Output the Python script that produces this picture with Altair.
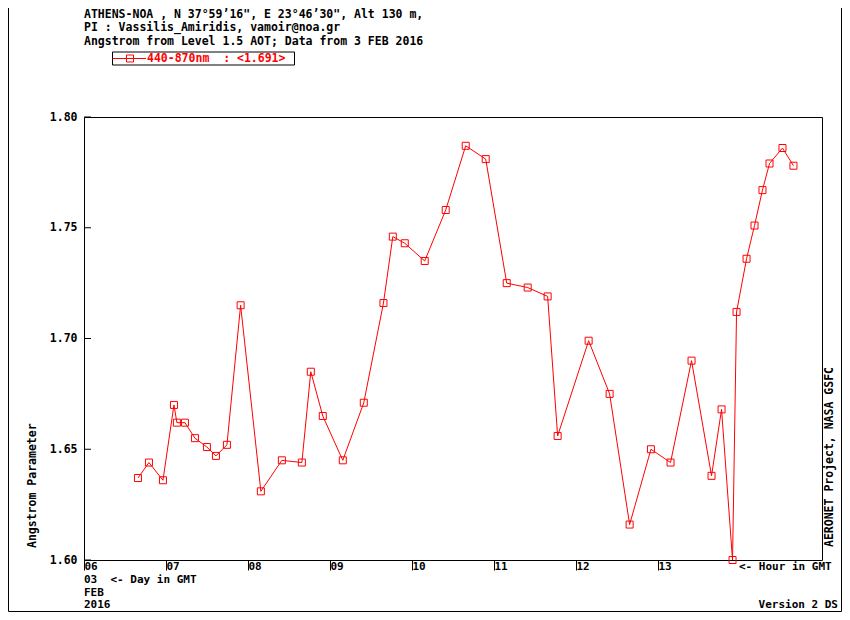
"""AERONET Athens-NOA Angstrom exponent, 3 Feb 2016."""

import altair as alt
import pandas as pd

FONT = "DejaVu Sans Mono"
RED = "#ff0000"
NB = "\u00a0"  # keeps double spaces in svg text

# hour of day (GMT) and Angstrom parameter 440-870nm
hours = [6.658, 6.792, 6.963, 7.097, 7.133, 7.231, 7.353, 7.499, 7.609, 7.743,
         7.910, 8.157, 8.413, 8.657, 8.766, 8.912, 9.156, 9.412, 9.652, 9.766,
         9.912, 10.155, 10.411, 10.655, 10.899, 11.155, 11.411, 11.654, 11.776, 12.154,
         12.410, 12.654, 12.914, 13.153, 13.409, 13.653, 13.775, 13.909, 13.958, 14.080,
         14.177, 14.274, 14.360, 14.518, 14.652]
angstrom = [1.637, 1.644, 1.636, 1.670, 1.662, 1.662, 1.655, 1.651, 1.647, 1.652,
            1.715, 1.631, 1.645, 1.644, 1.685, 1.665, 1.645, 1.671, 1.716, 1.746,
            1.743, 1.735, 1.758, 1.787, 1.781, 1.725, 1.723, 1.719, 1.656, 1.699,
            1.675, 1.616, 1.650, 1.644, 1.690, 1.638, 1.668, 1.600, 1.712, 1.736,
            1.751, 1.767, 1.779, 1.786, 1.778]

hour_ticks = [6, 7, 8, 9, 10, 11, 12, 13]
y_ticks = [1.60, 1.65, 1.70, 1.75, 1.80]

header = [
    "ATHENS-NOA , N 37\u00b059\u201916\", E 23\u00b046\u201930\", Alt 130 m,",
    "PI : Vassilis_Amiridis, vamoir@noa.gr",
    "Angstrom from Level 1.5 AOT; Data from 3 FEB 2016",
]
legend_label = "440-870nm " + NB + ": <1.691>"
date_lines = ["03 " + NB + "<- Day in GMT", "FEB", "2016"]

df = pd.DataFrame({"hour": hours, "angstrom": angstrom})
one = pd.DataFrame({"t": [""]})

x_scale = alt.Scale(domain=[6, 15], nice=False, zero=False)
y_scale = alt.Scale(domain=[1.60, 1.80], nice=False, zero=False)

x_axis = alt.Axis(
    values=hour_ticks,
    labelExpr="datum.value < 10 ? '0' + datum.value : '' + datum.value",
    tickSize=10,
    labelAlign="left",
    labelBaseline="middle",
    labelPadding=-3.5,
    labelFontSize=11,
    labelFlush=False,
    labelOverlap=False,
    grid=False,
    domain=False,
    title=None,
)
y_axis = alt.Axis(
    values=y_ticks,
    format=".2f",
    ticks=False,
    domain=False,
    grid=False,
    labelPadding=7,
    labelBaseline="middle",
    title=None,
)

x_enc = alt.X("hour:Q", scale=x_scale, axis=x_axis)
y_enc = alt.Y("angstrom:Q", scale=y_scale, axis=y_axis)

line = alt.Chart(df).mark_line(color=RED, strokeWidth=1).encode(x_enc, y_enc)
points = (
    alt.Chart(df)
    .mark_point(shape="square", size=49, filled=False, color=RED, strokeWidth=1, opacity=1)
    .encode(x_enc, y_enc)
)

# inward ticks on the left axis
yticks = (
    alt.Chart(pd.DataFrame({"angstrom": y_ticks}))
    .mark_rule(color="black", strokeWidth=1)
    .encode(y=alt.Y("angstrom:Q", scale=y_scale, axis=y_axis), x=alt.value(0), x2=alt.value(7))
)


def note(text, x, y, size=11.5, color="black", **kw):
    return (
        alt.Chart(pd.DataFrame({"t": [text]}))
        .mark_text(font=FONT, fontWeight="bold", fontSize=size, color=color,
                   baseline="middle", **kw)
        .encode(x=alt.value(x), y=alt.value(y), text="t:N")
    )


notes = [
    note(header[0], 0, -102, align="left"),
    note(header[1], 0, -88.6, align="left"),
    note(header[2], 0, -75.2, align="left"),
    note(legend_label, 63, -58.5, color=RED, align="left"),
    note("Angstrom Parameter", -51, 431, angle=270, align="left"),
    note("AERONET Project, NASA GSFC", 746, 430, angle=270, align="left"),
    note("<- Hour in GMT", 655, 449.5, size=11, align="left"),
    note(date_lines[0], 0, 462.8, size=11, align="left"),
    note(date_lines[1], 0, 475.6, size=11, align="left"),
    note(date_lines[2], 0, 488.4, size=11, align="left"),
    note("Version 2 DS", 754, 488.4, size=11, align="right"),
]

# legend frame with line + square glyph
legend_box = (
    alt.Chart(one)
    .mark_rect(fill="white", stroke="black", strokeWidth=1)
    .encode(x=alt.value(28.5), x2=alt.value(210.5), y=alt.value(-65), y2=alt.value(-52))
)
legend_line = (
    alt.Chart(one)
    .mark_rule(color=RED, strokeWidth=1)
    .encode(x=alt.value(28.5), x2=alt.value(62), y=alt.value(-58.5))
)
legend_mark = (
    alt.Chart(one)
    .mark_point(shape="square", size=49, filled=False, color=RED, strokeWidth=1, opacity=1)
    .encode(x=alt.value(46), y=alt.value(-58.5))
)

# outer page frame (right, bottom, left)
border = [
    alt.Chart(one).mark_rule(color="black", strokeWidth=1)
    .encode(x=alt.value(757.5), y=alt.value(-109), y2=alt.value(494.5)),
    alt.Chart(one).mark_rule(color="black", strokeWidth=1)
    .encode(x=alt.value(-75.5), x2=alt.value(757.5), y=alt.value(494.5)),
    alt.Chart(one).mark_rule(color="black", strokeWidth=1)
    .encode(x=alt.value(-75.5), y=alt.value(-109), y2=alt.value(494.5)),
]

chart = (
    alt.layer(line, points, yticks, legend_box, legend_line, legend_mark, *notes, *border)
    .properties(
        width=738,
        height=443,
        padding={"left": 76, "top": 109, "right": 20, "bottom": 52},
        autosize=alt.AutoSizeParams(type="none"),
        background="white",
    )
    .configure_view(stroke="black", strokeWidth=1)
    .configure_axis(
        labelFont=FONT,
        labelFontWeight="bold",
        labelFontSize=11.5,
        labelColor="black",
        tickColor="black",
        tickWidth=1,
    )
)

chart.save("out.html", embed_options={"renderer": "svg", "actions": False})
